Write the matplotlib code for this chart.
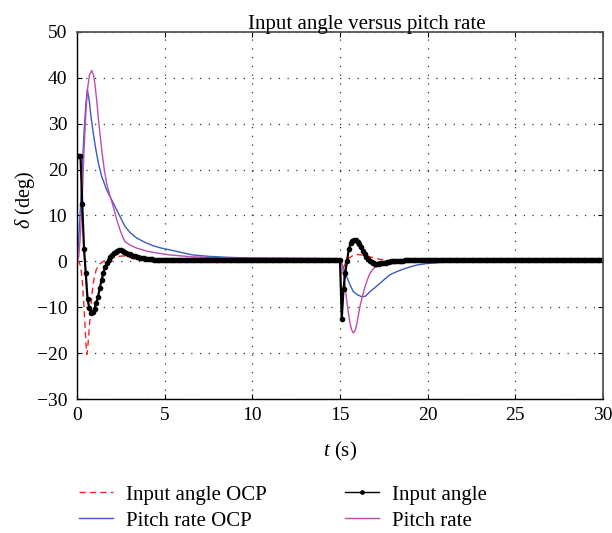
import numpy as np
import matplotlib
matplotlib.use("Agg")
import matplotlib.pyplot as plt
from matplotlib.lines import Line2D

plt.rcParams['font.family'] = ['Liberation Serif', 'DejaVu Serif']
plt.rcParams['mathtext.fontset'] = 'custom'
plt.rcParams['mathtext.rm'] = 'Liberation Serif'
plt.rcParams['mathtext.it'] = 'Liberation Serif:italic'
plt.rcParams['axes.unicode_minus'] = True

# ---------------- data ----------------
title = "Input angle versus pitch rate"
xticks = [0, 5, 10, 15, 20, 25, 30]
yticks = [-30, -20, -10, 0, 10, 20, 30, 40, 50]

# Input angle (sampled every 0.1 s)
input_t0 = 0.0
input_dt = 0.1
input_seg1 = [23, 23, 23, 12.5, 2.7, -2.5, -8.2, -10.2, -11.2, -11.0,
              -10.4, -9.0, -7.7, -5.8, -4.1, -2.6, -1.3, -0.4, 0.3, 0.9,
              1.4, 1.8, 2.1, 2.3, 2.4, 2.4, 2.3, 2.1, 1.9, 1.7,
              1.5, 1.3, 1.2, 1.1, 1.0, 0.9, 0.8, 0.7, 0.65, 0.6,
              0.55, 0.5, 0.45, 0.42, 0.4, 0.37, 0.35, 0.33, 0.3, 0.28]
input_plateau1 = [0.25] * 100
input_seg2 = [0.2, -12.5, -6.0, -2.5, 0.0, 2.6, 3.9, 4.5, 4.7, 4.6,
              4.3, 3.8, 3.1, 2.3, 1.6, 1.0, 0.5, 0.1, -0.2, -0.4,
              -0.5, -0.5, -0.5, -0.45, -0.4, -0.3, -0.25, -0.2, -0.1, 0.0,
              0.05, 0.1, 0.1, 0.12, 0.15, 0.15, 0.18, 0.2, 0.2, 0.2]
input_plateau2 = [0.2] * 111
input_angle = input_seg1 + input_plateau1 + input_seg2 + input_plateau2

# Input angle OCP
ocp_in_t = [0, 0.1, 0.2, 0.3, 0.4, 0.5, 0.55, 0.6, 0.7, 0.8, 0.9, 1.0, 1.1,
            1.2, 1.35, 1.5, 1.8, 2.1, 2.4, 2.65, 2.9, 3.2, 3.6, 4.2, 5, 10,
            15.0, 15.05, 15.15, 15.3, 15.5, 15.75, 16.0, 16.25, 16.6, 16.9,
            17.2, 17.5, 18, 20, 25, 30]
ocp_in_v = [0, 0, -1, -4, -10, -17, -20.3, -19.5, -14.5, -9.5, -5.5, -3.2, -1.8,
            -1.0, -0.4, 0.0, 0.5, 0.8, 1.1, 1.2, 1.0, 0.6, 0.3, 0.15, 0.1, 0.1,
            0.1, -2.6, -2.0, -0.4, 0.7, 1.3, 1.5, 1.4, 1.1, 0.8,
            0.5, 0.3, 0.15, 0.1, 0.1, 0.1]

# Pitch rate OCP
ocp_q_t = [0, 0.1, 0.2, 0.3, 0.4, 0.5, 0.59, 0.7, 0.8, 0.93, 1.07, 1.22, 1.41,
           1.69, 2.07, 2.45, 2.74, 3.05, 3.4, 3.9, 4.35, 4.8, 5.3, 6.0, 6.6,
           7.5, 8.5, 10, 12, 15.0, 15.1, 15.2, 15.38, 15.57, 15.76, 16.0,
           16.24, 16.45, 16.71, 17.0, 17.28, 17.57, 17.86, 18.2, 18.6, 19.0,
           19.38, 19.9, 20.5, 21.5, 23, 30]
ocp_q_v = [0, 5, 12, 20, 28, 34, 37.5, 35, 31.5, 27.9, 24.5, 21.4, 18.5,
           15.6, 12.7, 9.8, 7.6, 6.2, 5.1, 4.1, 3.4, 2.9, 2.5, 1.9, 1.4,
           1.1, 0.9, 0.7, 0.6, 0.5, -0.5, -1.5, -3.3, -5.1, -6.6, -7.3,
           -7.7, -7.6, -6.6, -5.7, -4.8, -3.8, -2.9, -2.3, -1.7, -1.2,
           -0.8, -0.5, -0.3, 0.0, 0.2, 0.3]

# Pitch rate
q_t = [0, 0.1, 0.2, 0.3, 0.4, 0.5, 0.6, 0.7, 0.84, 0.95, 1.03, 1.12, 1.25,
       1.41, 1.55, 1.69, 1.88, 2.07, 2.25, 2.45, 2.6, 2.74, 3.0, 3.4, 4.0,
       4.6, 5.3, 6.5, 8, 10, 12, 15.0, 15.1, 15.19, 15.3, 15.38, 15.48,
       15.57, 15.67, 15.76, 15.86, 15.95, 16.14, 16.3, 16.43, 16.57, 16.71,
       16.9, 17.1, 17.5, 18.24, 19.0, 20.1, 22, 30]
q_v = [0, 1, 6, 14, 24, 32, 37.5, 40.5, 41.6, 40.5, 38.5, 35.2, 30.0,
       24.3, 20.2, 17.0, 14.3, 11.9, 9.3, 6.9, 5.4, 4.3, 3.6, 2.9, 2.2,
       1.8, 1.4, 1.0, 0.8, 0.7, 0.7, 0.6, -0.5, -2.6, -5.5, -8.4, -11.2,
       -13.5, -15.0, -15.6, -15.1, -13.8, -9.8, -7.3, -5.5, -3.9, -2.6,
       -1.6, -1.1, -0.7, -0.4, -0.1, 0.2, 0.4, 0.5]

# ---------------- plot ----------------
input_time = input_t0 + input_dt * np.arange(len(input_angle))

fig = plt.figure(figsize=(6.12, 5.33), dpi=100)
ax = fig.add_axes([0.1258, 0.2514, 0.8595, 0.6886])

h_red, = ax.plot(ocp_in_t, ocp_in_v, color='#f42424', lw=1.0, ls=(0, (4.5, 3)))
h_blue, = ax.plot(ocp_q_t, ocp_q_v, color='#3a5cbc', lw=1.0)
h_mag, = ax.plot(q_t, q_v, color='#c04cb0', lw=1.0)
ax.plot(input_time, input_angle, color='black', lw=1.6, marker='o',
        markersize=3.0)
h_blk = Line2D([], [], color='black', lw=1.0, marker='o', markersize=2.4)

ax.set_xlim(0, 30)
ax.set_ylim(-30, 50)
ax.set_xticks(xticks)
ax.set_yticks(yticks)
ax.tick_params(direction='in', labelsize=14, length=3.5, width=0.8,
               right=True, top=True)
ax.tick_params(axis='x', pad=6)
ax.tick_params(axis='y', pad=7)
for side in ['top', 'right']:
    ax.spines[side].set_color('#555555')
    ax.spines[side].set_linewidth(1.3)
for side in ['left', 'bottom']:
    ax.spines[side].set_linewidth(1.0)

ax.grid(True, color='#333333', ls=(0, (1, 6)), lw=0.9)

ax.set_title(title, fontsize=15, x=0.551, pad=2.5)
ax.set_xlabel(r'$t$ (s)', fontsize=15, labelpad=11)
ax.set_ylabel(r'$\delta$ (deg)', fontsize=14.5)
ax.yaxis.set_label_coords(-0.0757, (399 - 200) / 367)

leg_kw = dict(loc='upper left', ncol=1, frameon=False, fontsize=15,
              handlelength=1.63, handletextpad=0.63, borderpad=0,
              labelspacing=0.31, borderaxespad=0)
fig.legend([h_red, h_blue], ['Input angle OCP', 'Pitch rate OCP'],
           bbox_to_anchor=(79 / 612, 1 - 485 / 533), **leg_kw)
fig.legend([h_blk, h_mag], ['Input angle', 'Pitch rate'],
           bbox_to_anchor=(345 / 612, 1 - 485 / 533), **leg_kw)

fig.savefig('out.png', dpi=100)
